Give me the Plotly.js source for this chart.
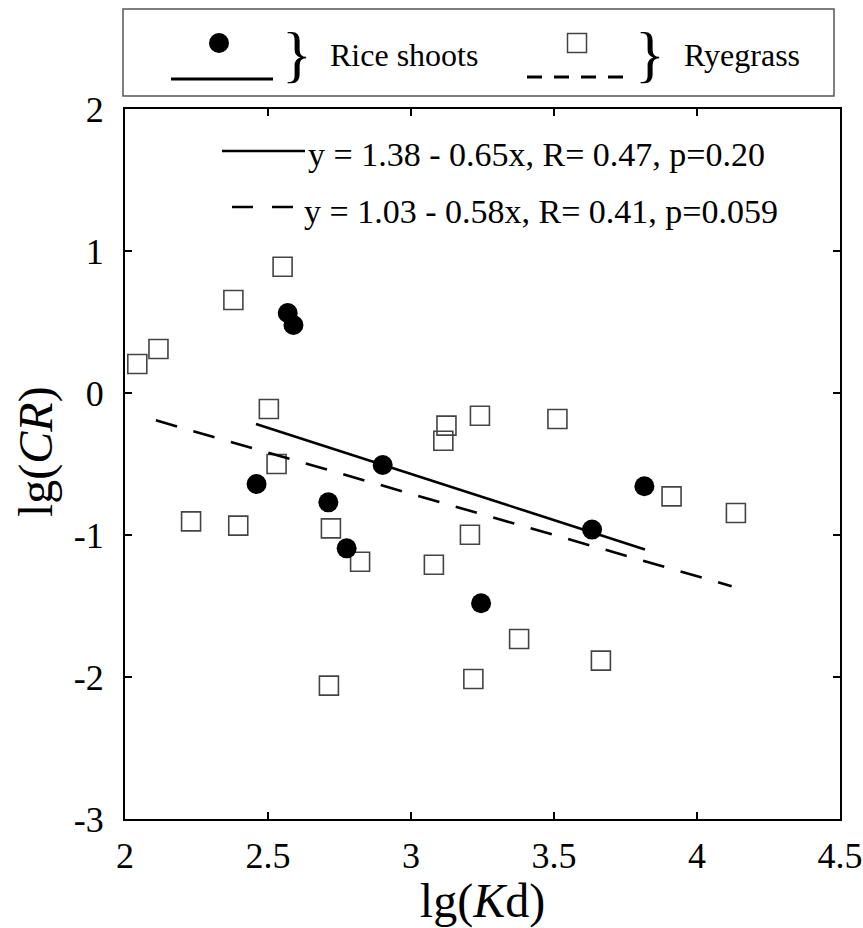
<!DOCTYPE html>
<html>
<head>
<meta charset="utf-8">
<script src="https://cdn.plot.ly/plotly-3.0.1.min.js"></script>
<style>html,body{margin:0;padding:0;background:#fff;}#chart{width:863px;height:928px;}</style>
</head>
<body>
<div id="chart"></div>
<script>
// ---- Data ----
const riceX = [2.569, 2.589, 2.460, 2.711, 2.775, 2.901, 3.245, 3.633, 3.816];
const riceY = [0.563, 0.479, -0.641, -0.770, -1.094, -0.507, -1.481, -0.962, -0.657];
const ryeX = [2.043, 2.117, 2.379, 2.551, 2.503, 2.530, 2.231, 2.396, 2.720, 2.822, 2.713,
              3.124, 3.113, 3.241, 3.206, 3.080, 3.218, 3.512, 3.378, 3.664, 3.911, 4.136];
const ryeY = [0.204, 0.310, 0.655, 0.889, -0.113, -0.500, -0.904, -0.934, -0.953, -1.188, -2.061,
              -0.230, -0.336, -0.160, -0.998, -1.209, -2.014, -0.183, -1.732, -1.885, -0.728, -0.845];
// regression lines (intercept, slope, x-extent)
const riceFit = {a: 1.38, b: -0.65, x: [2.458, 3.818]};
const ryeFit = {a: 1.03, b: -0.58, x: [2.108, 4.121]};
const riceEq = 'y = 1.38 - 0.65x, R= 0.47, p=0.20';
const ryeEq = 'y = 1.03 - 0.58x, R= 0.41, p=0.059';
const xTicks = [2, 2.5, 3, 3.5, 4, 4.5];
const xTickText = ['2', '2.5', '3', '3.5', '4', '4.5'];
const yTicks = [-3, -2, -1, 0, 1, 2];
const yTickText = ['-3', '-2', '-1', '0', '1', '2'];
const seriesNames = ['Rice shoots', 'Ryegrass'];
const xTitle = 'lg(<i>K</i>d)';
const yTitle = 'lg(<i>CR</i>)';

// ---- Layout helpers (pixel -> paper) ----
const W = 863, H = 928, L = 125, R = 840, T = 109, B = 819;
const px = p => (p - L) / (R - L);
const py = p => (B - p) / (B - T);
const FONT = '"Liberation Serif", "Times New Roman", serif';

const fitY = f => f.x.map(v => f.a + f.b * v);

const traces = [
  {x: ryeX, y: ryeY, mode: 'markers', type: 'scatter', name: seriesNames[1],
   marker: {symbol: 'square', size: 19, color: 'rgba(0,0,0,0)', line: {color: '#444', width: 1.6}}},
  {x: riceX, y: riceY, mode: 'markers', type: 'scatter', name: seriesNames[0],
   marker: {symbol: 'circle', size: 20, color: '#000', line: {width: 0}}},
  {x: ryeFit.x, y: fitY(ryeFit), mode: 'lines', type: 'scatter',
   line: {color: '#000', width: 2.6, dash: '22px,17px'}},
  {x: riceFit.x, y: fitY(riceFit), mode: 'lines', type: 'scatter',
   line: {color: '#000', width: 2.6}}
];

const axisCommon = {
  showgrid: false, zeroline: false, showline: true, linewidth: 2, linecolor: '#000',
  mirror: 'ticks', ticks: 'inside', ticklen: 7, tickwidth: 1.5, tickcolor: '#000',
  tickfont: {family: FONT, size: 36, color: '#000'}, tickmode: 'array'
};

const shapes = [
  // legend box
  {type: 'rect', xref: 'paper', yref: 'paper', x0: px(123), x1: px(834), y0: py(96), y1: py(9),
   line: {color: '#555', width: 1.5}, fillcolor: 'rgba(0,0,0,0)'},
  // legend: rice
  {type: 'line', xref: 'paper', yref: 'paper', x0: px(171), x1: px(273), y0: py(79), y1: py(79),
   line: {color: '#000', width: 3}},
  {type: 'circle', xref: 'paper', yref: 'paper', x0: px(209), x1: px(229), y0: py(53), y1: py(33),
   fillcolor: '#000', line: {color: '#000', width: 0}},
  // legend: ryegrass
  {type: 'line', xref: 'paper', yref: 'paper', x0: px(527), x1: px(625), y0: py(77), y1: py(77),
   line: {color: '#000', width: 3, dash: '15px,12px'}},
  {type: 'rect', xref: 'paper', yref: 'paper', x0: px(567.5), x1: px(586.5), y0: py(52.5), y1: py(33.5),
   fillcolor: 'rgba(0,0,0,0)', line: {color: '#444', width: 1.5}},
  // equation keys
  {type: 'line', xref: 'paper', yref: 'paper', x0: px(222), x1: px(305), y0: py(151), y1: py(151),
   line: {color: '#000', width: 2.6}},
  {type: 'line', xref: 'paper', yref: 'paper', x0: px(232), x1: px(293), y0: py(207), y1: py(207),
   line: {color: '#000', width: 2.6, dash: '21px,19px'}}
];

const ann = (x, y, text, size, xanchor, angle) => ({
  xref: 'paper', yref: 'paper', x: px(x), y: py(y), text: text, showarrow: false,
  xanchor: xanchor || 'left', yanchor: 'middle', textangle: angle || 0,
  font: {family: FONT, size: size, color: '#000'}
});

const annotations = [
  ann(297, 54, '}', 62, 'center'),
  ann(328, 55, seriesNames[0], 32),
  ann(650, 54, '}', 62, 'center'),
  ann(682, 55, seriesNames[1], 32),
  ann(306, 154, riceEq, 34),
  ann(302, 211, ryeEq, 34),
  ann(36, 452, yTitle, 48, 'center', -90)
];

const layout = {
  width: W, height: H,
  margin: {l: L, r: W - R, t: T, b: H - B, pad: 0},
  paper_bgcolor: '#fff', plot_bgcolor: '#fff',
  showlegend: false,
  xaxis: Object.assign({}, axisCommon, {
    range: [2, 4.5], tickvals: xTicks, ticktext: xTickText, ticklabelstandoff: 4,
    title: {text: xTitle, font: {family: FONT, size: 48, color: '#000'}, standoff: 6}
  }),
  yaxis: Object.assign({}, axisCommon, {
    range: [-3, 2], tickvals: yTicks, ticktext: yTickText, ticklabelstandoff: 12
  }),
  shapes: shapes,
  annotations: annotations
};

Plotly.newPlot('chart', traces, layout, {displayModeBar: false, staticPlot: true});
</script>
</body>
</html>
